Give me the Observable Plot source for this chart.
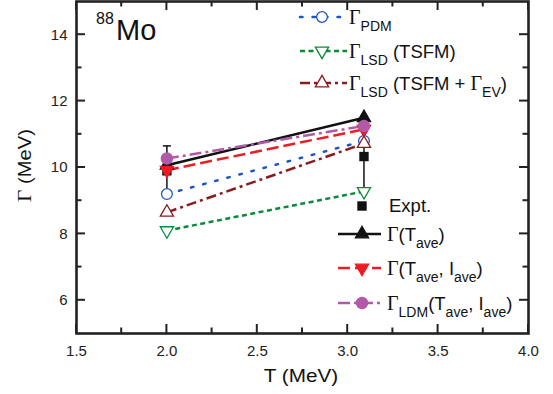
<!DOCTYPE html>
<html><head><meta charset="utf-8">
<script src="https://cdn.jsdelivr.net/npm/d3@7"></script>
<script src="https://cdn.jsdelivr.net/npm/@observablehq/plot@0.6"></script>
<style>body{margin:0;background:#fff} svg{display:block}</style>
</head><body><div id="chart"></div>
<script>
// ---- data ----
const temps = [2.0, 3.09];
const pdm = [9.2, 10.8];
const lsdTsfm = [8.1, 9.28];
const lsdEv = [8.65, 10.72];
const expt = [9.9, 10.33];
const exptErr = [0.75, 0.95];
const gTave = [10.07, 11.5];
const gTaveIave = [9.92, 11.15];
const gLdm = [10.27, 11.25];
const xTicks = [1.5, 2.0, 2.5, 3.0, 3.5, 4.0];
const xMinor = [1.75, 2.25, 2.75, 3.25, 3.75];
const yTicks = [6, 8, 10, 12, 14];
const yMinor = [7, 9, 11, 13];

const FONT = "'Liberation Sans', Arial, sans-serif";
const SERIF = "'Liberation Serif', 'Times New Roman', serif";

const W = 553, H = 394, ML = 76, MR = 25, MT = 1, MB = 61;
const xDomain = [1.5, 4.0], yDomain = [5, 15];

const series = [
  {key: "pdm", values: pdm, color: "#1d55c4", dash: "2.5,10", cap: "round", symbol: "circle", r: 5.4, fill: "white", rotate: 0},
  {key: "lsd", values: lsdTsfm, color: "#0b8a3a", dash: "5,3.5", cap: "butt", symbol: "triangle", r: 4.9, fill: "white", rotate: 180},
  {key: "lsdEv", values: lsdEv, color: "#8a1b1e", dash: "10,4,3,4", cap: "butt", symbol: "triangle", r: 4.9, fill: "white", rotate: 0},
  {key: "tave", values: gTave, color: "#111111", dash: null, cap: "butt", symbol: "triangle", r: 4.9, fill: "#111111", rotate: 0},
  {key: "taveIave", values: gTaveIave, color: "#ec1c24", dash: "12,5", cap: "butt", symbol: "triangle", r: 4.9, fill: "#ec1c24", rotate: 180},
  {key: "ldm", values: gLdm, color: "#b25aa8", dash: "12,4,3,4", cap: "butt", symbol: "circle", r: 5.6, fill: "#b25aa8", rotate: 0}
];
const byKey = Object.fromEntries(series.map(s => [s.key, s]));
const rows = s => temps.map((t, i) => ({T: t, G: s.values[i]}));
const exptRows = temps.map((t, i) => ({T: t, G: expt[i], e: exptErr[i]}));

const capSym = {draw(ctx) { ctx.moveTo(-4, 0); ctx.lineTo(4, 0); }};

const lineMarks = series.map(s => Plot.line(rows(s), {
  x: "T", y: "G", stroke: s.color, strokeWidth: 2.5,
  strokeDasharray: s.dash, strokeLinecap: s.cap
}));
const dotMark = s => Plot.dot(rows(s), {
  x: "T", y: "G", symbol: s.symbol, r: s.r, rotate: s.rotate,
  stroke: s.color, fill: s.fill, strokeWidth: 1.3
});

const AX = "#222";
const chart = Plot.plot({
  width: W, height: H,
  marginLeft: ML, marginRight: MR, marginTop: MT, marginBottom: MB,
  style: {fontFamily: FONT, background: "white"},
  x: {domain: xDomain},
  y: {domain: yDomain},
  marks: [
    ...lineMarks,
    dotMark(byKey.tave),
    Plot.ruleX(exptRows, {x: "T", y1: d => d.G - d.e, y2: d => d.G + d.e, stroke: "#111", strokeWidth: 1.5}),
    Plot.dot(exptRows, {x: "T", y: d => d.G + d.e, symbol: capSym, stroke: "#111", strokeWidth: 1.5}),
    Plot.dot(exptRows, {x: "T", y: d => d.G - d.e, symbol: capSym, stroke: "#111", strokeWidth: 1.5}),
    Plot.dot(exptRows, {x: "T", y: "G", symbol: "square", r: 5.3, fill: "#111", stroke: "none"}),
    dotMark(byKey.taveIave),
    dotMark(byKey.pdm),
    dotMark(byKey.lsd),
    dotMark(byKey.lsdEv),
    dotMark(byKey.ldm),
    Plot.axisX(xTicks, {anchor: "bottom", tickSize: 0, tickPadding: 12, label: null, fontSize: 15, fill: "#222", tickFormat: d => d.toFixed(1)}),
    Plot.axisY(yTicks, {anchor: "left", tickSize: 0, tickPadding: 9, label: null, fontSize: 15, fill: "#222", tickFormat: d => String(d)}),
    Plot.frame({stroke: AX, strokeWidth: 2.6})
  ]
});
document.getElementById("chart").appendChild(chart);

const svg = d3.select(chart);

// ---- inward ticks on all four sides, placed with Plot's own scales ----
const sx = chart.scale("x"), sy = chart.scale("y");
const fx = v => sx.range[0] + (v - sx.domain[0]) / (sx.domain[1] - sx.domain[0]) * (sx.range[1] - sx.range[0]);
const fy = v => sy.range[0] + (v - sy.domain[0]) / (sy.domain[1] - sy.domain[0]) * (sy.range[1] - sy.range[0]);
const bx0 = ML, bx1 = W - MR, by0 = MT, by1 = H - MB;
const tg = svg.append("g");
function seg(x1, y1, x2, y2) {
  tg.append("path").attr("d", `M${x1},${y1}L${x2},${y2}`)
    .style("stroke", AX).style("stroke-width", "2px").style("fill", "none");
}
const MAJ = 9, MIN = 5.5;
xTicks.forEach(v => { const p = fx(v); seg(p, by1, p, by1 - MAJ); seg(p, by0, p, by0 + MAJ); });
xMinor.forEach(v => { const p = fx(v); seg(p, by1, p, by1 - MIN); seg(p, by0, p, by0 + MIN); });
yTicks.forEach(v => { const p = fy(v); seg(bx0, p, bx0 + MAJ, p); seg(bx1, p, bx1 - MAJ, p); });
yMinor.forEach(v => { const p = fy(v); seg(bx0, p, bx0 + MIN, p); seg(bx1, p, bx1 - MIN, p); });

// ---- annotations & legend (layout, pixel space) ----
const g = svg.append("g").style("font-family", FONT).style("fill", "#111").style("text-anchor", "start");

function richText(x, y, parts, size = 18.5, sub = 14) {
  const t = g.append("text").attr("x", x).attr("y", y).style("font-size", size + "px");
  let shifted = false;
  for (const [txt, kind] of parts) {
    const ts = t.append("tspan").text(txt);
    if (kind === "s") {
      ts.style("font-size", sub + "px");
      if (!shifted) { ts.attr("dy", 6.5); shifted = true; }
    } else {
      if (shifted) { ts.attr("dy", -6.5); shifted = false; }
      if (kind === "g") ts.style("font-family", SERIF).style("font-size", "20px");
    }
  }
  return t;
}

function symbolPath(s) {
  const type = s.symbol === "circle" ? d3.symbolCircle : s.symbol === "square" ? d3.symbolSquare : d3.symbolTriangle;
  return d3.symbol(type, Math.PI * s.r * s.r)();
}

function legendRow(s, xa, xb, xm, y, parts, tx) {
  g.append("line").attr("x1", xa).attr("x2", xb).attr("y1", y).attr("y2", y)
    .attr("stroke", s.color).attr("stroke-width", 2.5)
    .attr("stroke-dasharray", s.dash).attr("stroke-linecap", s.cap);
  g.append("path").attr("d", symbolPath(s))
    .attr("transform", `translate(${xm},${y}) rotate(${s.rotate})`)
    .style("fill", s.fill).attr("stroke", s.color).attr("stroke-width", 1.3);
  richText(tx, y + 7, parts);
}

legendRow(byKey.pdm, 300, 347, 322, 17, [["Γ", "g"], ["PDM", "s"]], 349);
legendRow(byKey.lsd, 300, 347, 322, 51, [["Γ", "g"], ["LSD", "s"], [" (TSFM)", "n"]], 349);
legendRow(byKey.lsdEv, 300, 347, 322, 83, [["Γ", "g"], ["LSD", "s"], [" (TSFM + ", "n"], ["Γ", "g"], ["EV", "s"], [")", "n"]], 349);

g.append("path").attr("d", d3.symbol(d3.symbolSquare, Math.PI * 5.3 * 5.3)())
  .attr("transform", "translate(362,206)").style("fill", "#111");
richText(389, 212, [["Expt.", "n"]]);
legendRow(byKey.tave, 338, 381, 362, 234, [["Γ", "g"], ["(T", "n"], ["ave", "s"], [")", "n"]], 387);
legendRow(byKey.taveIave, 338, 381, 362, 268, [["Γ", "g"], ["(T", "n"], ["ave", "s"], [", I", "n"], ["ave", "s"], [")", "n"]], 387);
legendRow(byKey.ldm, 338, 381, 362, 303, [["Γ", "g"], ["LDM", "s"], ["(T", "n"], ["ave", "s"], [", I", "n"], ["ave", "s"], [")", "n"]], 387);

g.append("text").attr("x", 96).attr("y", 23.5).style("font-size", "16px").text("88");
g.append("text").attr("x", 116).attr("y", 40).style("font-size", "29px").text("Mo");

const xt = g.append("text").attr("transform", "translate(301,382) scale(1.15,1)")
  .style("text-anchor", "middle").style("font-size", "18px");
xt.text("T (MeV)");
const yt = g.append("text").attr("transform", "translate(30.5,165.5) rotate(-90) scale(1.12,1)")
  .style("text-anchor", "middle").style("font-size", "18px");
yt.append("tspan").style("font-family", SERIF).style("font-size", "19px").text("Γ");
yt.append("tspan").text(" (MeV)");
</script>
</body></html>
